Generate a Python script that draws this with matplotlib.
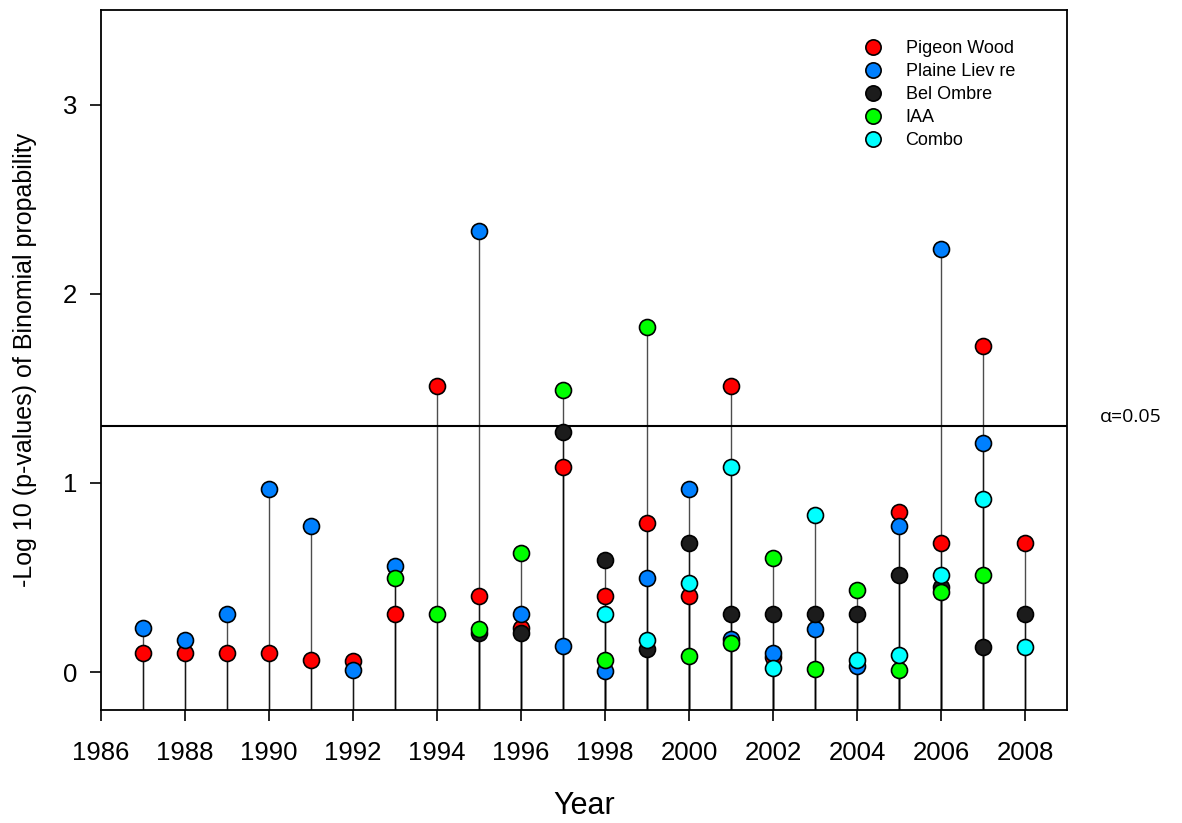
import numpy as np
import matplotlib
matplotlib.use("Agg")
import matplotlib.pyplot as plt
from matplotlib.lines import Line2D

nan = np.nan
years = list(range(1987, 2009))

pigeon_wood = [0.099, 0.099, 0.099, 0.099, 0.063, 0.058, 0.307, 1.513, 0.404, 0.231, 1.086,
               0.404, 0.787, 0.402, 1.513, 0.081, nan, nan, 0.848, 0.681, 1.725, 0.681]
plaine_lievre = [0.231, 0.169, 0.307, 0.968, 0.772, 0.011, 0.562, nan, 2.330, 0.307, 0.138,
                 0.007, 0.496, 0.968, 0.173, 0.099, 0.226, 0.032, 0.772, 2.236, 1.213, nan]
bel_ombre = [nan, nan, nan, nan, nan, nan, nan, nan, 0.208, 0.208, 1.272,
             0.593, 0.122, 0.681, 0.307, 0.307, 0.307, 0.307, 0.513, 0.448, 0.134, 0.307]
iaa = [nan, nan, nan, nan, nan, nan, 0.496, 0.307, 0.226, 0.628, 1.492,
       0.063, 1.822, 0.085, 0.155, 0.601, 0.019, 0.434, 0.011, 0.422, 0.513, nan]
combo = [nan, nan, nan, nan, nan, nan, nan, nan, nan, nan, nan,
         0.307, 0.169, 0.469, 1.083, 0.023, 0.829, 0.063, 0.090, 0.513, 0.914, 0.134]

series_names = ["Pigeon Wood", "Plaine Liev re", "Bel Ombre", "IAA", "Combo"]
series_values = [pigeon_wood, plaine_lievre, bel_ombre, iaa, combo]
series_colors = ["#FF0000", "#0080FF", "#1C1C1C", "#00FF00", "#00FFFF"]

alpha_level = -np.log10(0.05)
xticks = list(range(1986, 2009, 2))
yticks = [0, 1, 2, 3]

plt.rcParams['font.family'] = ['Liberation Sans', 'DejaVu Sans']

fig = plt.figure(figsize=(11.82, 8.23), dpi=100)
ax = fig.add_axes([101/1182, 1 - 710/823, (1067-101)/1182, 700/823])

ymin, ymax = -0.2, 3.5
ax.set_xlim(1986, 2009)
ax.set_ylim(ymin, ymax)

yrs = np.array(years, dtype=float)
# stems
for vals in series_values:
    v = np.array(vals, dtype=float)
    m = ~np.isnan(v)
    ax.vlines(yrs[m], ymin, v[m], colors='black', linewidth=1.0, alpha=0.7, zorder=2)

ax.axhline(alpha_level, color='black', linewidth=1.5, zorder=2)

for i, (vals, col) in enumerate(zip(series_values, series_colors)):
    v = np.array(vals, dtype=float)
    m = ~np.isnan(v)
    ax.plot(yrs[m], v[m], linestyle='none', marker='o', markersize=11.5,
            markerfacecolor=col, markeredgecolor='black', markeredgewidth=1.2,
            zorder=3 + i)

ax.set_xticks(xticks)
ax.set_yticks(yticks)
ax.tick_params(axis='both', direction='out', length=8, width=1.2, labelsize=18.5)
ax.tick_params(axis='x', pad=14)
ax.tick_params(axis='y', pad=9)
for s in ax.spines.values():
    s.set_linewidth(1.3)

ax.set_xlabel("Year", fontsize=22, labelpad=19)
ax.set_ylabel("-Log 10 (p-values) of Binomial propability", fontsize=18)
ax.yaxis.set_label_coords(-64/966, 0.5)

handles = [Line2D([], [], linestyle='none', marker='o', markersize=11,
                  markerfacecolor=c, markeredgecolor='black', markeredgewidth=1.2)
           for c in series_colors]
leg = ax.legend(handles, series_names, loc='upper left',
                bbox_to_anchor=((864-101)/966, (710-40)/700),
                frameon=False, fontsize=13, borderpad=0, borderaxespad=0,
                handlelength=1.0, handletextpad=1.3, labelspacing=0.33)

fig.text(1131/1182, 1 - 417/823, "α=0.05", fontsize=14, ha='center', va='center',
         family=['Open Sans', 'DejaVu Sans'])

fig.savefig("out.png", dpi=100)
